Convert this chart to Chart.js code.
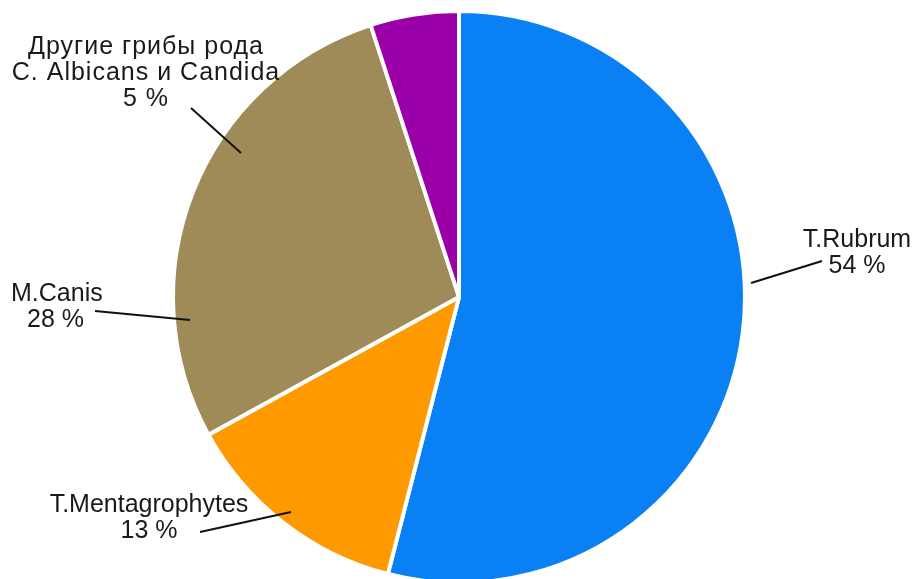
<!DOCTYPE html>
<html lang="ru">
<head>
    <meta charset="UTF-8">
    <title>Возбудители</title>
    <script src="https://cdn.jsdelivr.net/npm/chart.js"></script>
    <style>
        html, body {
            margin: 0;
            padding: 0;
            background: #fff;
            overflow: hidden;
        }
        .chart-box {
            position: relative;
            width: 914px;
            height: 600px;
        }
    </style>
</head>
<body>
    <div class="chart-box">
        <canvas id="pieChart"></canvas>
    </div>
    <script>
        // Данные
        const categories = ['T.Rubrum', 'T.Mentagrophytes', 'M.Canis', 'Другие грибы рода C. Albicans и Candida'];
        const percents = [54, 13, 28, 5];
        const sliceColors = ['#0a80f5', '#ff9900', '#9e8b57', '#9b00a8'];

        // Подписи: строки текста, центр текста, линия-выноска (снаружи -> внутрь сектора)
        const labelLayout = [
            { lines: ['T.Rubrum', percents[0] + ' %'], x: 857, y: 240, line: [[751, 283], [822, 261]] },
            { lines: ['T.Mentagrophytes', percents[1] + ' %'], x: 149, y: 505, line: [[200, 532], [291, 512]] },
            { lines: ['M.Canis', percents[2] + ' %'], x: 58, y: 294, align: 'left', lx: 11, line: [[95, 311], [190, 320]] },
            { lines: ['Другие грибы рода', 'C. Albicans и Candida', percents[3] + ' %'], x: 146, y: 47, spacing: '1px', line: [[191, 108], [241, 153]] }
        ];

        const labelPlugin = {
            id: 'labelPlugin',
            afterDraw(chart) {
                const ctx = chart.ctx;
                ctx.save();
                ctx.font = '25px "Liberation Sans", Arial, sans-serif';
                ctx.fillStyle = '#1a1a1a';
                ctx.textBaseline = 'middle';
                labelLayout.forEach(l => {
                    ctx.letterSpacing = l.spacing || '0px';
                    l.lines.forEach((t, i) => {
                        const y = l.y + i * 26;
                        if (l.align === 'left') {
                            ctx.textAlign = 'left';
                            ctx.fillText(t, i === 0 ? l.lx : l.lx + 16, y);
                        } else {
                            ctx.textAlign = 'center';
                            ctx.fillText(t, l.x, y);
                        }
                    });
                    ctx.beginPath();
                    ctx.strokeStyle = '#111';
                    ctx.lineWidth = 2;
                    ctx.moveTo(l.line[0][0], l.line[0][1]);
                    ctx.lineTo(l.line[1][0], l.line[1][1]);
                    ctx.stroke();
                });
                ctx.restore();
            }
        };

        const ctx = document.getElementById('pieChart').getContext('2d');
        new Chart(ctx, {
            type: 'pie',
            data: {
                labels: categories,
                datasets: [{
                    data: percents,
                    backgroundColor: sliceColors,
                    borderColor: '#ffffff',
                    borderWidth: 4
                }]
            },
            options: {
                responsive: true,
                maintainAspectRatio: false,
                animation: false,
                layout: {
                    padding: { top: 9, bottom: 15, left: 171, right: 167 }
                },
                plugins: {
                    legend: { display: false },
                    tooltip: { enabled: false }
                }
            },
            plugins: [labelPlugin]
        });
    </script>
</body>
</html>
